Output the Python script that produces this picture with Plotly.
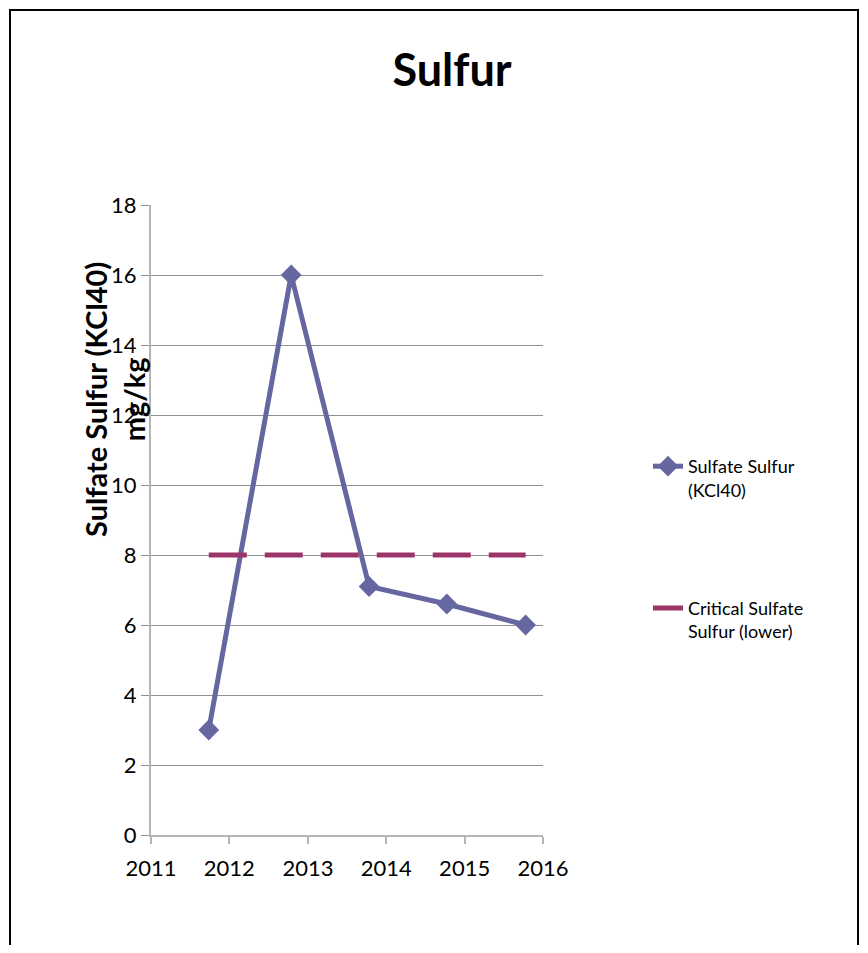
import plotly.graph_objects as go

# data
sample_dates = ['2011-09-27', '2012-10-15', '2013-10-13', '2014-10-10', '2015-10-12']
sulfate_sulfur = [3.0, 16.0, 7.1, 6.6, 6.0]
critical_level = 8
year_ticks = ['2011', '2012', '2013', '2014', '2015', '2016']

_font = 'Lato'
_series_color = '#6667A1'
_critical_color = '#9B3468'
_grid_color = '#8f8f8f'
_axis_color = '#b5b5b5'

# the page body has an 8px margin, so the figure is drawn 8px in;
# keep it small enough that the page never scrolls
OFF = 8
W, H = 868 - 2 * OFF, 953 - 2 * OFF
# plot area on the page: x 151..543, y 205..835
M = dict(l=151 - OFF, r=W - (543 - OFF), t=205 - OFF, b=H - (835 - OFF))
_pw = W - M['l'] - M['r']
_ph = H - M['t'] - M['b']


def px_x(x):
    # page x pixel -> paper coords
    return (x - OFF - M['l']) / _pw


def px_y(y):
    # page y pixel -> paper coords
    return (H - M['b'] - (y - OFF)) / _ph


fig = go.Figure()

fig.add_trace(go.Scatter(
    x=sample_dates,
    y=sulfate_sulfur,
    mode='lines+markers',
    name='Sulfate Sulfur<br>(KCl40)',
    legendgroup='s',
    line=dict(color=_series_color, width=5),
    marker=dict(symbol='diamond', size=16, color=_series_color),
))

fig.add_trace(go.Scatter(
    x=[sample_dates[0], sample_dates[-1]],
    y=[critical_level] * 2,
    mode='lines',
    name='Critical Sulfate<br>Sulfur (lower)',
    legendgroup='c',
    line=dict(color=_critical_color, width=5, dash='38px,18px'),
))

fig.update_layout(
    width=W,
    height=H,
    margin=M,
    paper_bgcolor='white',
    plot_bgcolor='white',
    font=dict(family=_font, size=22, color='black'),
    title=dict(text='<b>Sulfur</b>', x=(452 - OFF) / W, xanchor='center',
               y=1 - (70 - OFF) / H, yanchor='middle',
               font=dict(family=_font, size=45, color='black')),
    xaxis=dict(
        type='date',
        range=[year_ticks[0] + '-01-01', year_ticks[-1] + '-01-01'],
        tickvals=[y + '-01-01' for y in year_ticks],
        ticktext=year_ticks,
        showgrid=False,
        zeroline=False,
        showline=True,
        linecolor=_axis_color,
        linewidth=2,
        ticks='outside',
        ticklen=7,
        tickcolor=_axis_color,
        tickwidth=2,
        ticklabelstandoff=6,
        tickfont=dict(size=22),
    ),
    yaxis=dict(
        range=[0, 18],
        dtick=2,
        showgrid=True,
        gridcolor=_grid_color,
        gridwidth=1,
        zeroline=False,
        showline=True,
        linecolor=_axis_color,
        linewidth=2,
        ticks='outside',
        ticklen=8,
        tickcolor=_grid_color,
        tickfont=dict(size=22),
    ),
    showlegend=True,
    legend=dict(
        x=px_x(648),
        y=px_y(448),
        xanchor='left',
        yanchor='top',
        valign='top',
        tracegroupgap=92,
        font=dict(family=_font, size=18, color='black'),
        bgcolor='rgba(0,0,0,0)',
    ),
)

# y axis title (sits over the tick labels like the original)
fig.add_annotation(
    xref='paper', yref='paper',
    x=px_x(114), y=px_y(400),
    xanchor='center', yanchor='middle',
    text='<b>Sulfate Sulfur (KCl40)<br>mg/kg</b>',
    textangle=-90,
    showarrow=False,
    font=dict(family=_font, size=29, color='black'),
)

# chart border (right edge as far out as the figure allows)
fig.add_shape(
    type='rect', xref='paper', yref='paper',
    x0=px_x(10), x1=px_x(OFF + W - 2),
    y0=px_y(990), y1=px_y(10),
    line=dict(color='black', width=2),
    fillcolor='rgba(0,0,0,0)',
    layer='below',
)

fig.write_html('out.html')
